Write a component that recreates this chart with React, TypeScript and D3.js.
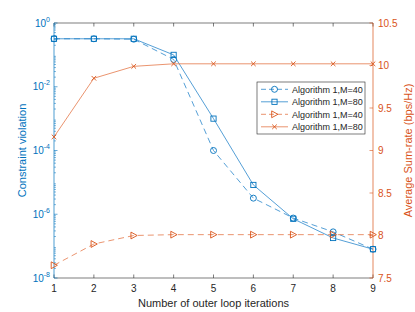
import React from 'react';
import * as d3 from 'd3';

const width = 415;
const height = 312;
const padding = { left: 54, right: 42, top: 23, down: 34 };

const blue = '#0072BD';
const blueLine = '#2a86cc';
const orange = '#D95319';
const orangeLine = '#e4784a';

const iterations = [1, 2, 3, 4, 5, 6, 7, 8, 9];
const violationM40 = [0.32, 0.32, 0.31, 0.072, 1e-4, 3.2e-6, 7.6e-7, 2.8e-7, 8e-8];
const violationM80 = [0.32, 0.32, 0.32, 0.1, 1e-3, 8.3e-6, 7.2e-7, 1.8e-7, 8e-8];
const rateM40 = [7.65, 7.9, 8.0, 8.01, 8.01, 8.01, 8.01, 8.01, 8.01];
const rateM80 = [9.16, 9.85, 9.99, 10.02, 10.02, 10.02, 10.02, 10.02, 10.02];

const leftTicks = [0, -2, -4, -6, -8];
const rightTicks = [7.5, 8, 8.5, 9, 9.5, 10, 10.5];
const legendLabels = ['Algorithm 1,M=40', 'Algorithm 1,M=80', 'Algorithm 1,M=40', 'Algorithm 1,M=80'];

const font = 'Liberation Sans, Arial, sans-serif';

export default function App() {
  const x0 = padding.left;
  const x1 = width - padding.right;
  const y0 = padding.top;
  const y1 = height - padding.down;

  const xScale = d3.scaleLinear().domain([1, 9]).range([x0, x1]);
  const yLeft = d3.scaleLog().domain([1e-8, 1]).range([y1, y0]);
  const yRight = d3.scaleLinear().domain([7.5, 10.5]).range([y1, y0]);

  const lineLeft = d3.line<number>().x((_, i) => xScale(iterations[i])).y(d => yLeft(d));
  const lineRight = d3.line<number>().x((_, i) => xScale(iterations[i])).y(d => yRight(d));

  // minor ticks on log axis
  const minor: number[] = [];
  for (let e = -8; e < 0; e++) {
    for (let m = 2; m <= 9; m++) minor.push(m * Math.pow(10, e));
  }

  const circle = (cx: number, cy: number, k: string) => (
    <circle key={k} cx={cx} cy={cy} r={3} fill="none" stroke={blue} strokeWidth={0.9} />
  );
  const square = (cx: number, cy: number, k: string) => (
    <rect key={k} x={cx - 2.6} y={cy - 2.6} width={5.2} height={5.2} fill="none" stroke={blue} strokeWidth={0.9} />
  );
  const tri = (cx: number, cy: number, k: string) => (
    <path key={k} d={`M${cx - 2.8},${cy - 3.4}L${cx + 3.4},${cy}L${cx - 2.8},${cy + 3.4}Z`} fill="none" stroke={orange} strokeWidth={0.9} />
  );
  const cross = (cx: number, cy: number, k: string) => (
    <path key={k} d={`M${cx - 2.3},${cy - 2.3}L${cx + 2.3},${cy + 2.3}M${cx - 2.3},${cy + 2.3}L${cx + 2.3},${cy - 2.3}`} stroke={orange} strokeWidth={0.9} />
  );

  const legend = { x: 257, y: 82, w: 108, h: 52 };
  const legendRow = (i: number) => legend.y + 7.3 + i * 12.5;
  const legendItems = [
    { stroke: blueLine, dash: '5,3', marker: circle },
    { stroke: blueLine, dash: undefined, marker: square },
    { stroke: orangeLine, dash: '5,3', marker: tri },
    { stroke: orangeLine, dash: undefined, marker: cross },
  ];

  return (
    <div style={{ position: 'absolute', left: 0, top: 0 }}>
      <svg width={width} height={height} style={{ display: 'block', fontFamily: font }}>
        <rect width={width} height={height} fill="#fff" />

        {/* box: top and bottom */}
        <line x1={x0} x2={x1} y1={y0} y2={y0} stroke="#262626" strokeWidth={0.6} />
        <line x1={x0} x2={x1} y1={y1} y2={y1} stroke="#262626" strokeWidth={0.6} />
        {iterations.map(t => (
          <g key={'xt' + t}>
            <line x1={xScale(t)} x2={xScale(t)} y1={y1} y2={y1 - 3.5} stroke="#262626" strokeWidth={0.6} />
            <line x1={xScale(t)} x2={xScale(t)} y1={y0} y2={y0 + 3.5} stroke="#262626" strokeWidth={0.6} />
            <text x={xScale(t)} y={y1 + 13.5} fontSize={10} textAnchor="middle" fill="#262626">{t}</text>
          </g>
        ))}

        {/* left axis */}
        <line x1={x0} x2={x0} y1={y0} y2={y1} stroke={blue} strokeWidth={0.7} />
        {minor.map((m, i) => (
          <line key={'mn' + i} x1={x0} x2={x0 + 2} y1={yLeft(m)} y2={yLeft(m)} stroke={blue} strokeWidth={0.5} />
        ))}
        {leftTicks.map(e => (
          <g key={'lt' + e}>
            <line x1={x0} x2={x0 + 3.5} y1={yLeft(Math.pow(10, e))} y2={yLeft(Math.pow(10, e))} stroke={blue} strokeWidth={0.6} />
            <text x={x0 - 4} y={yLeft(Math.pow(10, e)) + 3.5} fontSize={10} textAnchor="end" fill={blue}>
              10<tspan fontSize={7} dy={-5}>{e}</tspan>
            </text>
          </g>
        ))}

        {/* right axis */}
        <line x1={x1} x2={x1} y1={y0} y2={y1} stroke={orange} strokeWidth={0.7} />
        {rightTicks.map(v => (
          <g key={'rt' + v}>
            <line x1={x1} x2={x1 - 3.5} y1={yRight(v)} y2={yRight(v)} stroke={orange} strokeWidth={0.6} />
            <text x={x1 + 5} y={yRight(v) + 3.5} fontSize={10} fill={orange}>{v}</text>
          </g>
        ))}

        {/* series */}
        <path d={lineLeft(violationM40) ?? ''} fill="none" stroke={blueLine} strokeWidth={0.8} strokeDasharray="6,4" />
        <path d={lineLeft(violationM80) ?? ''} fill="none" stroke={blueLine} strokeWidth={0.8} />
        <path d={lineRight(rateM40) ?? ''} fill="none" stroke={orangeLine} strokeWidth={0.8} strokeDasharray="6,4" />
        <path d={lineRight(rateM80) ?? ''} fill="none" stroke={orangeLine} strokeWidth={0.8} />
        {violationM40.map((v, i) => circle(xScale(iterations[i]), yLeft(v), 'c' + i))}
        {violationM80.map((v, i) => square(xScale(iterations[i]), yLeft(v), 's' + i))}
        {rateM40.map((v, i) => tri(xScale(iterations[i]), yRight(v), 't' + i))}
        {rateM80.map((v, i) => cross(xScale(iterations[i]), yRight(v), 'x' + i))}

        {/* legend */}
        <rect x={legend.x} y={legend.y} width={legend.w} height={legend.h} fill="#fff" stroke="#262626" strokeWidth={0.6} />
        {legendItems.map((it, i) => (
          <g key={'lg' + i}>
            <line x1={legend.x + 4} x2={legend.x + 31} y1={legendRow(i)} y2={legendRow(i)} stroke={it.stroke} strokeWidth={0.8} strokeDasharray={it.dash} />
            {it.marker(legend.x + 17.5, legendRow(i), 'lm' + i)}
            <text x={legend.x + 35} y={legendRow(i) + 3.3} fontSize={9} fill="#262626">{legendLabels[i]}</text>
          </g>
        ))}

        {/* axis labels */}
        <text x={(x0 + x1) / 2} y={height - 5} fontSize={11} textAnchor="middle" fill="#262626">Number of outer loop iterations</text>
        <text transform={`translate(26, ${(y0 + y1) / 2}) rotate(-90)`} fontSize={11} textAnchor="middle" fill={blue}>Constraint violation</text>
        <text transform={`translate(412, ${(y0 + y1) / 2}) rotate(-90)`} fontSize={11} textAnchor="middle" fill={orange}>Average Sum-rate (bps/Hz)</text>
      </svg>
    </div>
  );
}
